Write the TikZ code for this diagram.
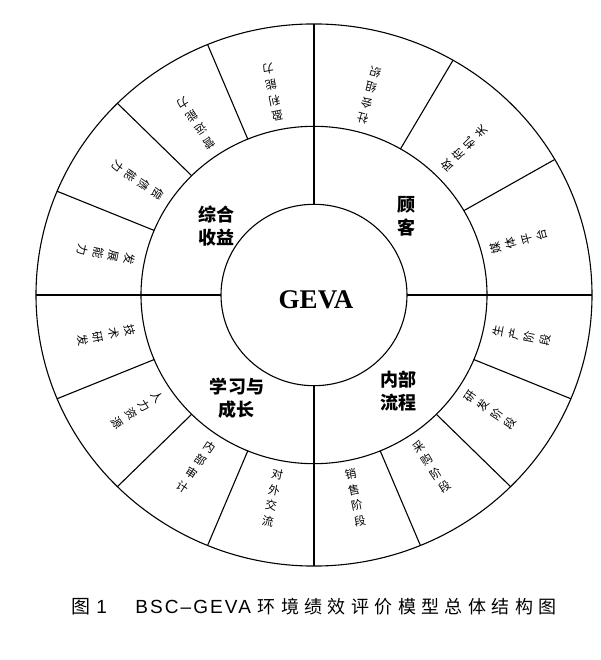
\documentclass[tikz,border=0pt]{standalone}
\usepackage{fontspec}
\setmainfont{Liberation Serif}
\newfontfamily\cjk{Noto Sans CJK SC}
\newfontfamily\cjkcap[LetterSpace=30]{Noto Sans CJK SC}
\newfontfamily\capsans[LetterSpace=11]{Liberation Sans}
\usetikzlibrary{positioning}
\tikzstyle{leaf}=[font=\cjk\fontsize{11.5}{16}\selectfont,align=center,inner sep=0pt]
\tikzstyle{part}=[font=\cjk\bfseries\fontsize{18}{23}\selectfont,align=center,inner sep=0pt]
\tikzstyle{hub}=[font=\bfseries\fontsize{27}{30}\selectfont,inner sep=0pt]

\begin{document}
\begin{tikzpicture}[x=1pt,y=0.975pt,line width=1.1pt]
\useasboundingbox (-314pt,-365pt) rectangle (286pt,295pt);
% rings
\draw (0,0) ellipse [x radius=278pt, y radius=271.05pt];
\draw (0,0) ellipse [x radius=173pt, y radius=168.7pt];
\draw (0,0) ellipse [x radius=93pt, y radius=90.7pt];
% quadrant lines and spokes
\foreach \a in {0,90,180,270}
    \draw (\a:93) -- (\a:278);
\foreach \a in {30,60,-22.5,-45,-67.5,-112.5,-135,-157.5,112.5,135,157.5}
    \draw (\a:173) -- (\a:278);
\node [hub] (geva) at (2pt,-5pt) {GEVA};
% four parts
\node [part] (gain) at (-98pt,69pt) {综合\\收益};
\node [part] (client) at (92pt,79pt) {顾\\客};
\node [part] (flow) at (84pt,-96pt) {内部\\流程};
\node [part] (learn) at (-77pt,-103pt) {学习与\\成长};
% outer ring
\foreach \a/\t [count=\i] in {75/{社\\会\\组\\织},45/{政\\府\\机\\关},15/{媒\\体\\平\\台},
    -11.25/{生\\产\\阶\\段},-33.75/{研\\发\\阶\\段},-56.25/{采\\购\\阶\\段},-78.75/{销\\售\\阶\\段},
    -101.25/{对\\外\\交\\流},-123.75/{内\\部\\审\\计},-146.25/{人\\力\\资\\源},-168.75/{技\\术\\研\\发},
    168.75/{发\\展\\能\\力},146.25/{偿\\债\\能\\力},123.75/{营\\运\\能\\力},101.25/{盈\\利\\能\\力}}
    \node [leaf, rotate=\a+90] (seg\i) at (\a:212) {\t};
\node [font=\fontsize{19}{20}\selectfont] (caption) at (0pt,-312pt)
    {{\cjkcap 图}\hspace{0.3em}{\capsans 1}\hspace{1.5em}{\capsans BSC–GEVA}\hspace{0.35em}{\cjkcap\fontsize{18}{20}\selectfont 环境绩效评价模型总体结构图}};
\end{tikzpicture}
\end{document}
